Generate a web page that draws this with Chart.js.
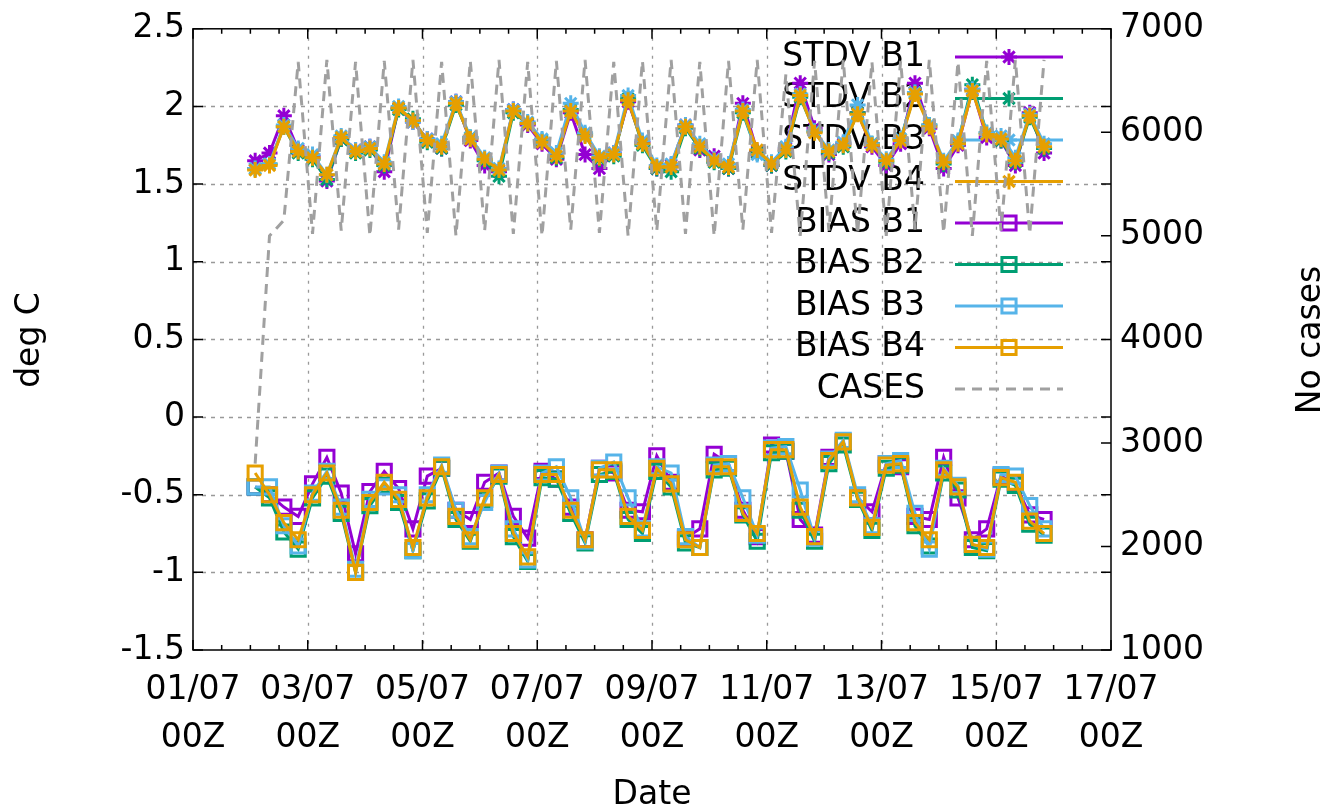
<!DOCTYPE html>
<html>
<head>
<meta charset="utf-8">
<script src="https://cdn.jsdelivr.net/npm/chart.js@4"></script>
<style>
  html, body { margin: 0; padding: 0; background: #fff; }
  canvas { display: block; }
</style>
</head>
<body>
<canvas id="chart" width="1339" height="810"></canvas>
<script>
// hours since 01/07 00Z
const hours = [26, 32, 38, 44, 50, 56, 62, 68, 74, 80, 86, 92, 98, 104, 110, 116,
  122, 128, 134, 140, 146, 152, 158, 164, 170, 176, 182, 188, 194, 200, 206, 212,
  218, 224, 230, 236, 242, 248, 254, 260, 266, 272, 278, 284, 290, 296, 302, 308,
  314, 320, 326, 332, 338, 344, 350, 356];

const stdvB1 = [1.65, 1.70, 1.94, 1.72, 1.68, 1.52, 1.79, 1.72,
  1.74, 1.58, 1.99, 1.90, 1.79, 1.73, 2.03, 1.78,
  1.62, 1.58, 1.98, 1.88, 1.76, 1.66, 1.96, 1.69,
  1.60, 1.70, 2.03, 1.77, 1.60, 1.62, 1.88, 1.72,
  1.68, 1.60, 2.02, 1.71, 1.62, 1.73, 2.15, 1.86,
  1.69, 1.76, 1.96, 1.74, 1.62, 1.76, 2.15, 1.86,
  1.60, 1.75, 2.11, 1.80, 1.78, 1.62, 1.96, 1.70];
const stdvB2 = [1.60, 1.63, 1.87, 1.70, 1.66, 1.53, 1.79, 1.70,
  1.72, 1.62, 1.98, 1.92, 1.77, 1.73, 2.01, 1.80,
  1.65, 1.55, 1.96, 1.89, 1.78, 1.67, 1.98, 1.82,
  1.66, 1.68, 2.05, 1.75, 1.60, 1.58, 1.86, 1.73,
  1.64, 1.60, 1.96, 1.70, 1.62, 1.71, 2.06, 1.84,
  1.70, 1.74, 1.96, 1.76, 1.64, 1.79, 2.09, 1.88,
  1.63, 1.77, 2.14, 1.83, 1.78, 1.64, 1.93, 1.73];
const stdvB3 = [1.60, 1.63, 1.88, 1.73, 1.69, 1.56, 1.81, 1.72,
  1.74, 1.64, 2.00, 1.90, 1.79, 1.76, 2.03, 1.80,
  1.67, 1.60, 1.98, 1.90, 1.79, 1.70, 2.02, 1.83,
  1.68, 1.70, 2.07, 1.78, 1.62, 1.63, 1.88, 1.76,
  1.66, 1.63, 1.98, 1.69, 1.64, 1.74, 2.08, 1.84,
  1.72, 1.77, 2.01, 1.76, 1.66, 1.79, 2.09, 1.88,
  1.65, 1.78, 2.11, 1.83, 1.81, 1.67, 1.95, 1.76];
const stdvB4 = [1.59, 1.62, 1.87, 1.71, 1.67, 1.56, 1.80, 1.71,
  1.73, 1.63, 1.99, 1.91, 1.78, 1.74, 2.02, 1.79,
  1.66, 1.59, 1.97, 1.89, 1.77, 1.68, 1.97, 1.81,
  1.67, 1.69, 2.04, 1.76, 1.61, 1.61, 1.87, 1.74,
  1.65, 1.61, 1.97, 1.72, 1.63, 1.72, 2.07, 1.83,
  1.71, 1.75, 1.95, 1.75, 1.65, 1.78, 2.08, 1.87,
  1.64, 1.76, 2.10, 1.82, 1.79, 1.65, 1.94, 1.74];

const biasB1 = [-0.45, -0.50, -0.58, -0.64, -0.43, -0.26, -0.49, -0.88,
  -0.48, -0.35, -0.46, -0.72, -0.38, -0.33, -0.60, -0.66,
  -0.42, -0.36, -0.64, -0.78, -0.35, -0.40, -0.58, -0.79,
  -0.33, -0.36, -0.60, -0.61, -0.25, -0.42, -0.78, -0.72,
  -0.24, -0.30, -0.60, -0.77, -0.18, -0.22, -0.66, -0.76,
  -0.26, -0.16, -0.52, -0.61, -0.30, -0.32, -0.64, -0.66,
  -0.26, -0.52, -0.79, -0.72, -0.38, -0.43, -0.63, -0.66];
const biasB2 = [-0.45, -0.52, -0.74, -0.85, -0.52, -0.38, -0.62, -1.00,
  -0.57, -0.44, -0.55, -0.86, -0.54, -0.33, -0.66, -0.80,
  -0.53, -0.38, -0.77, -0.93, -0.39, -0.40, -0.62, -0.81,
  -0.37, -0.35, -0.66, -0.75, -0.35, -0.45, -0.81, -0.84,
  -0.34, -0.33, -0.63, -0.80, -0.23, -0.22, -0.60, -0.80,
  -0.30, -0.18, -0.53, -0.73, -0.33, -0.31, -0.70, -0.83,
  -0.36, -0.47, -0.84, -0.86, -0.40, -0.44, -0.69, -0.76];
const biasB3 = [-0.45, -0.45, -0.70, -0.83, -0.49, -0.35, -0.58, -0.98,
  -0.53, -0.45, -0.50, -0.86, -0.50, -0.31, -0.60, -0.77,
  -0.55, -0.36, -0.72, -0.92, -0.36, -0.32, -0.52, -0.80,
  -0.33, -0.29, -0.52, -0.72, -0.32, -0.36, -0.77, -0.84,
  -0.31, -0.30, -0.52, -0.76, -0.20, -0.19, -0.47, -0.78,
  -0.27, -0.15, -0.50, -0.70, -0.30, -0.28, -0.62, -0.85,
  -0.33, -0.44, -0.82, -0.85, -0.37, -0.38, -0.57, -0.72];
const biasB4 = [-0.36, -0.50, -0.68, -0.79, -0.50, -0.36, -0.60, -1.00,
  -0.55, -0.42, -0.53, -0.84, -0.52, -0.32, -0.64, -0.79,
  -0.52, -0.37, -0.75, -0.90, -0.37, -0.37, -0.60, -0.79,
  -0.34, -0.34, -0.64, -0.73, -0.33, -0.43, -0.79, -0.84,
  -0.32, -0.32, -0.62, -0.75, -0.21, -0.21, -0.58, -0.77,
  -0.28, -0.16, -0.52, -0.71, -0.31, -0.30, -0.68, -0.79,
  -0.34, -0.45, -0.82, -0.84, -0.39, -0.42, -0.67, -0.75];

const cases = [2800, 5000, 5150, 6680, 5020, 6700, 5050, 6680,
  5000, 6690, 5060, 6700, 5030, 6680, 5000, 6690,
  5050, 6700, 5020, 6680, 5000, 6690, 5060, 6700,
  5030, 6680, 5000, 6690, 5050, 6700, 5020, 6680,
  5000, 6690, 5060, 6700, 5030, 6560, 5000, 6690,
  5050, 6700, 5020, 6680, 5000, 6690, 5060, 6700,
  5030, 6680, 5000, 6690, 5050, 6700, 5020, 6700];

const purple = '#9400d3', green = '#009e73', cyan = '#56b4e9', orange = '#e69f00', grey = '#a0a0a0';
const font = 'DejaVu Sans';
const fontSize = 33;

function pts(vals) {
  return vals.map((v, i) => ({x: hours[i], y: v}));
}

function stdv(label, vals, color, order) {
  return {label: label, data: pts(vals), yAxisID: 'y', borderColor: color, backgroundColor: color,
    borderWidth: 3, pointStyle: 'star', pointRadius: 8, pointBorderWidth: 3, order: order};
}
function bias(label, vals, color, order) {
  return {label: label, data: pts(vals), yAxisID: 'y', borderColor: color, backgroundColor: 'rgba(0,0,0,0)',
    borderWidth: 3, pointStyle: 'rect', pointRadius: 10, pointBorderWidth: 3, order: order};
}

const datasets = [
  stdv('STDV B1', stdvB1, purple, 8),
  stdv('STDV B2', stdvB2, green, 7),
  stdv('STDV B3', stdvB3, cyan, 6),
  stdv('STDV B4', stdvB4, orange, 5),
  bias('BIAS B1', biasB1, purple, 4),
  bias('BIAS B2', biasB2, green, 3),
  bias('BIAS B3', biasB3, cyan, 2),
  bias('BIAS B4', biasB4, orange, 1),
  {label: 'CASES', data: pts(cases), yAxisID: 'y2', borderColor: grey, borderWidth: 3,
    borderDash: [10, 7], pointRadius: 0, order: 0}
];

// gnuplot style frame, grid, inward ticks, key and axis titles
const gnuplotLook = {
  id: 'gnuplotLook',
  beforeDatasetsDraw(chart) {
    const ctx = chart.ctx, a = chart.chartArea;
    const xs = chart.scales.x, ys = chart.scales.y;
    ctx.save();
    ctx.strokeStyle = '#999';
    ctx.lineWidth = 1.3;
    ctx.setLineDash([4, 5]);
    ys.ticks.forEach(t => {
      const y = Math.round(ys.getPixelForValue(t.value)) + 0.5;
      if (y <= a.top + 1 || y >= a.bottom - 1) return;
      ctx.beginPath(); ctx.moveTo(a.left, y); ctx.lineTo(a.right, y); ctx.stroke();
    });
    ctx.setLineDash([3, 6]);
    xs.ticks.forEach(t => {
      const x = Math.round(xs.getPixelForValue(t.value)) + 0.5;
      if (x <= a.left + 1 || x >= a.right - 1) return;
      ctx.beginPath(); ctx.moveTo(x, a.top); ctx.lineTo(x, a.bottom); ctx.stroke();
    });
    ctx.setLineDash([]);

    // key
    ctx.font = fontSize + 'px "' + font + '"';
    ctx.textAlign = 'right';
    ctx.textBaseline = 'middle';
    datasets.forEach((d, i) => {
      const y = 57 + i * 41.5;
      ctx.fillStyle = '#000';
      ctx.fillText(d.label, 925, y);
      ctx.strokeStyle = d.borderColor;
      ctx.lineWidth = 3;
      if (d.borderDash) ctx.setLineDash(d.borderDash);
      ctx.beginPath(); ctx.moveTo(955, y); ctx.lineTo(1063, y); ctx.stroke();
      ctx.setLineDash([]);
      if (d.pointRadius) {
        ctx.fillStyle = 'rgba(0,0,0,0)';
        Chart.helpers.drawPoint(ctx, {pointStyle: d.pointStyle, radius: d.pointRadius,
          borderWidth: d.pointBorderWidth, rotation: 0}, 1009, y);
      }
    });
    ctx.restore();
  },
  afterDraw(chart) {
    const ctx = chart.ctx, a = chart.chartArea;
    const xs = chart.scales.x, ys = chart.scales.y, y2 = chart.scales.y2;
    ctx.save();
    ctx.strokeStyle = '#000';
    ctx.lineWidth = 1.5;
    ctx.strokeRect(a.left, a.top, a.right - a.left, a.bottom - a.top);
    ctx.beginPath();
    ys.ticks.forEach(t => {
      const y = ys.getPixelForValue(t.value);
      ctx.moveTo(a.left, y); ctx.lineTo(a.left + 10, y);
      ctx.moveTo(a.right, y); ctx.lineTo(a.right - 10, y);
    });
    y2.ticks.forEach(t => {
      const y = y2.getPixelForValue(t.value);
      ctx.moveTo(a.right, y); ctx.lineTo(a.right - 10, y);
    });
    for (let h = xs.min; h <= xs.max; h += 12) {
      const x = xs.getPixelForValue(h);
      const len = (h % 48 === 0) ? 10 : 5;
      ctx.moveTo(x, a.bottom); ctx.lineTo(x, a.bottom - len);
      ctx.moveTo(x, a.top); ctx.lineTo(x, a.top + len);
    }
    ctx.stroke();

    ctx.fillStyle = '#000';
    ctx.font = fontSize + 'px "' + font + '"';
    ctx.textAlign = 'center';
    ctx.textBaseline = 'middle';
    ctx.fillText('Date', (a.left + a.right) / 2, 795);
    ctx.save();
    ctx.translate(30, 340); ctx.rotate(-Math.PI / 2);
    ctx.fillText('deg C', 0, 0);
    ctx.restore();
    ctx.save();
    ctx.translate(1311, 340); ctx.rotate(-Math.PI / 2);
    ctx.fillText('No cases', 0, 0);
    ctx.restore();
    ctx.restore();
  }
};

new Chart(document.getElementById('chart'), {
  type: 'line',
  data: {datasets: datasets},
  plugins: [gnuplotLook],
  options: {
    responsive: false,
    animation: false,
    devicePixelRatio: 1,
    layout: {padding: {top: 28, left: 0, right: 0, bottom: 0}},
    plugins: {legend: {display: false}, tooltip: {enabled: false}},
    scales: {
      x: {
        type: 'linear', min: 0, max: 384,
        afterFit: s => { s.height = 160; },
        grid: {display: false, drawTicks: false},
        border: {display: false},
        ticks: {
          stepSize: 48, padding: 16, color: '#000', maxRotation: 0,
          font: {family: font, size: fontSize, lineHeight: 48 / fontSize},
          callback: v => {
            const d = 1 + v / 24;
            return [(d < 10 ? '0' + d : '' + d) + '/07', '00Z'];
          }
        }
      },
      y: {
        position: 'left', min: -1.5, max: 2.5,
        afterFit: s => { s.width = 193; },
        grid: {display: false, drawTicks: false},
        border: {display: false},
        ticks: {stepSize: 0.5, padding: 8, color: '#000', font: {family: font, size: fontSize},
          callback: v => String(Math.round(v * 10) / 10)}
      },
      y2: {
        position: 'right', min: 1000, max: 7000,
        afterFit: s => { s.width = 228; },
        grid: {display: false, drawTicks: false},
        border: {display: false},
        ticks: {stepSize: 1000, padding: 9, color: '#000', font: {family: font, size: fontSize},
          callback: v => String(v)}
      }
    }
  }
});
</script>
</body>
</html>
